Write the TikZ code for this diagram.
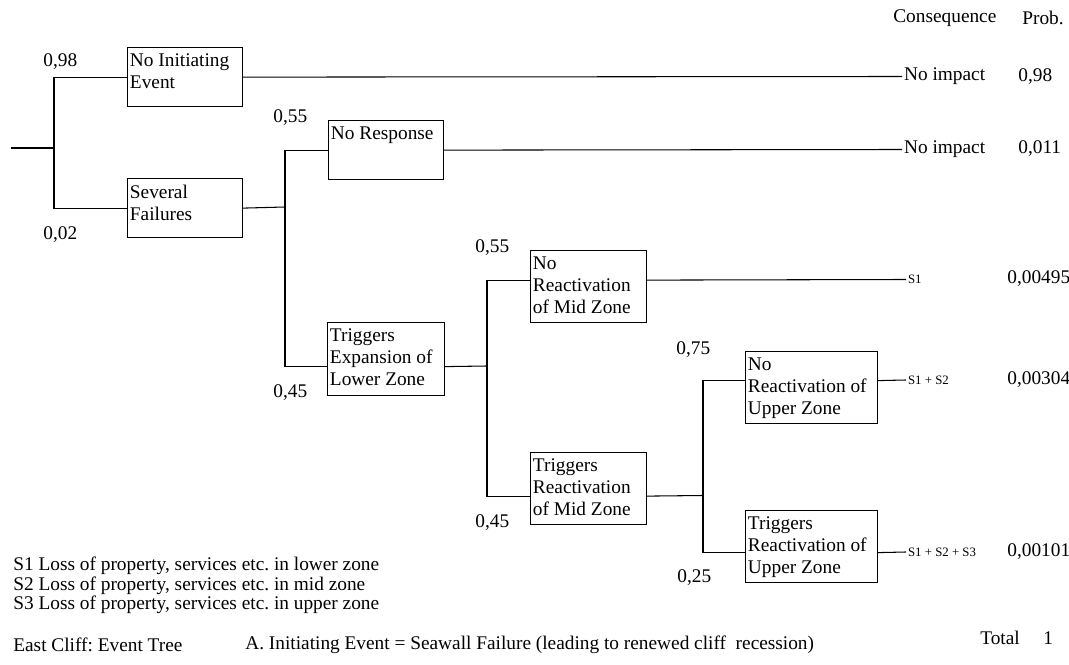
\documentclass[tikz,border=0pt]{standalone}
\usepackage{fontspec}
\setmainfont{Liberation Serif}
\usetikzlibrary{calc}
\frenchspacing

\begin{document}
\begin{tikzpicture}[
x=0.02cm,y=-0.02cm,
font=\fontsize{11}{12.5}\selectfont,
box/.style={draw,line width=.7pt,anchor=north west,minimum width=2.3cm,minimum height=1.18cm,inner sep=0pt},
tallbox/.style={box,minimum width=2.32cm,minimum height=1.44cm},
widebox/.style={box,minimum width=2.64cm,minimum height=1.44cm},
boxtext/.style={anchor=north west,align=left,inner xsep=1.5pt,inner ysep=3.8pt},
branch/.style={line width=.6pt},
txt/.style={anchor=west,inner sep=0pt},
cons/.style={anchor=west,inner sep=1pt},
small/.style={cons,font=\fontsize{7.3}{8}\selectfont}
]
\useasboundingbox (0,0) rectangle (1069,665);

% header
\node[txt] (hcons) at (893,18) {Consequence};
\node[txt] (hprob) at (1022,18) {Prob.};

% event boxes
\node[box,label={[boxtext]north west:No Initiating\\Event}] (noinit) at (127,47) {};
\node[box,label={[boxtext]north west:Several\\Failures}] (several) at (127,178) {};
\node[box,label={[boxtext]north west:No Response}] (noresp) at (328,120) {};
\node[tallbox,minimum width=2.34cm,minimum height=1.46cm,label={[boxtext]north west:Triggers\\Expansion of\\Lower Zone}] (lower) at (327,322) {};
\node[tallbox,label={[boxtext]north west:No\\Reactivation\\of Mid Zone}] (nomid) at (530,250) {};
\node[tallbox,label={[boxtext]north west:Triggers\\Reactivation\\of Mid Zone}] (mid) at (530,452) {};
\node[widebox,label={[boxtext]north west:No\\Reactivation of\\Upper Zone}] (noupper) at (745,351) {};
\node[widebox,label={[boxtext]north west:Triggers\\Reactivation of\\Upper Zone}] (upper) at (745,510) {};

% consequences
\node[cons] (c1) at (902,76.5) {No impact};
\node[cons] (c2) at (902,149.5) {No impact};
\node[small] (c3) at (906,279.5) {S1};
\node[small] (c4) at (906,380) {S1 + S2};
\node[small] (c5) at (906,552) {S1 + S2 + S3};

% probabilities
\node[txt] (p1) at (1018,77) {0,98};
\node[txt] (p2) at (1018,149) {0,011};
\node[txt] (p3) at (1007,279) {0,00495};
\node[txt] (p4) at (1007,380) {0,00304};
\node[txt] (p5) at (1007,552) {0,00101};

% branch probabilities
\node[txt] (q1) at (43,62) {0,98};
\node[txt] (q2) at (43,235) {0,02};
\node[txt] (q3) at (273,118) {0,55};
\node[txt] (q4) at (273,393) {0,45};
\node[txt] (q5) at (475,248) {0,55};
\node[txt] (q6) at (475,523) {0,45};
\node[txt] (q7) at (676,350) {0,75};
\node[txt] (q8) at (677,578) {0,25};

% branch points
\coordinate (root) at (11,148);
\coordinate (f1) at (54,148);
\coordinate (f2) at (285,207);
\coordinate (f3) at (487,366);
\coordinate (f4) at (703,495.5);

\draw[branch] (root) -- (f1);
\draw[branch] (noinit.west) -| (f1);
\draw[branch] (several.west) -| (f1);
\draw[branch] (several.east) -- (f2);
\draw[branch] (noresp.west) -| (f2);
\draw[branch] ($(lower.west)+(0,7.5)$) -| (f2);
\draw[branch] ($(lower.east)+(0,7.5)$) -- (f3);
\draw[branch] ($(nomid.west)+(0,-6.5)$) -| (f3);
\draw[branch] ($(mid.west)+(0,7.5)$) -| (f3);
\draw[branch] ($(mid.east)+(0,7.5)$) -- (f4);
\draw[branch] ($(noupper.west)+(0,-7)$) -| (f4);
\draw[branch] ($(upper.west)+(0,6)$) -| (f4);

\draw[branch] (noinit.east) -- (c1.west);
\draw[branch] (noresp.east) -- (c2.west);
\draw[branch] ($(nomid.east)+(0,-6.5)$) -- (c3.west);
\draw[branch] ($(noupper.east)+(0,-7)$) -- (c4.west);
\draw[branch] ($(upper.east)+(0,6)$) -- (c5.west);

% legend
\node[txt] (s1) at (13,566) {S1 Loss of property, services etc. in lower zone};
\node[txt] (s2) at (13,586) {S2 Loss of property, services etc. in mid zone};
\node[txt] (s3) at (13,605) {S3 Loss of property, services etc. in upper zone};
\node[txt] (title) at (13,645) {East Cliff: Event Tree};
\node[txt] (caption) at (245,645) {A. Initiating Event = Seawall Failure (leading to renewed cliff~ recession)};
\node[txt] (total) at (980,638) {Total};
\node[txt] (totalval) at (1043,638) {1};
\end{tikzpicture}
\end{document}
